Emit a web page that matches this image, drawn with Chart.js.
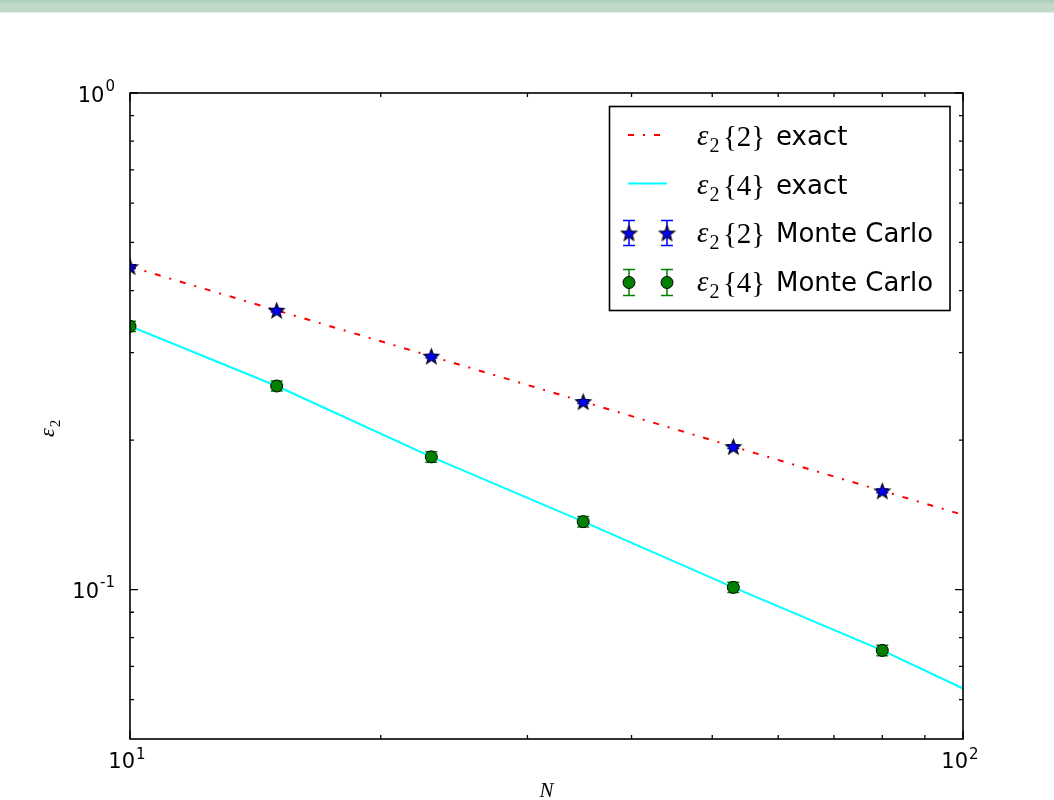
<!DOCTYPE html>
<html>
<head>
<meta charset="utf-8">
<title>eps2 vs N</title>
<script src="https://cdn.jsdelivr.net/npm/chart.js@4/dist/chart.umd.min.js"></script>
<style>
    html, body { margin: 0; padding: 0; background: #fff; }
    #wrap { position: relative; width: 1054px; height: 800px; }
    #band {
        position: absolute; left: 0; top: 0; width: 1054px; height: 12px;
        background: linear-gradient(#a9ccb3, #c0d9c9 35%, #c1d9ca);
        border-bottom: 1px solid #e2eee6; z-index: 2;
    }
    canvas { position: absolute; left: 0; top: 0; }
</style>
</head>
<body>
<div id="wrap">
    <div id="band"></div>
    <canvas id="epsChart" width="1054" height="800"></canvas>
</div>
<script>
// multiplicities
const nMC = [10, 15, 23, 35, 53, 80];
const nExact = [10, 15, 23, 35, 53, 80, 100];

// eps2{2}
const eps2Exact = [0.447, 0.365, 0.295, 0.239, 0.194, 0.158, 0.1414];
const eps2MC = [0.447, 0.365, 0.295, 0.239, 0.194, 0.158];
const eps2Err = [0.004, 0.003, 0.0025, 0.002, 0.0016, 0.0013];

// eps2{4}
const eps4Exact = [0.339, 0.257, 0.185, 0.137, 0.101, 0.0754, 0.0632];
const eps4MC = [0.339, 0.257, 0.185, 0.137, 0.101, 0.0754];
const eps4Err = [0.008, 0.006, 0.0045, 0.0033, 0.0024, 0.0018];

// axis ticks
const xMajor = [10, 100];
const xMajorExp = ['1', '2'];
const xMinor = [20, 30, 40, 50, 60, 70, 80, 90];
const yMajor = [0.1, 1];
const yMajorExp = ['-1', '0'];
const yMinor = [0.06, 0.07, 0.08, 0.09, 0.2, 0.3, 0.4, 0.5, 0.6, 0.7, 0.8, 0.9];

const sansFont = '"DejaVu Sans", sans-serif';
const serifFont = '"Liberation Serif", "DejaVu Serif", serif';
const red = '#ff0000';
const cyan = '#00ffff';
const blue = '#0000ff';
const green = '#008000';
const dashDot = [6, 9, 2, 9];

function makeStar(r) {
    const c = document.createElement('canvas');
    const size = Math.ceil(r * 2 + 3);
    c.width = size;
    c.height = size;
    const g = c.getContext('2d');
    const cx = size / 2, cy = size / 2 + 0.7;
    g.beginPath();
    for (let i = 0; i < 10; i++) {
        const rad = i % 2 === 0 ? r : r * 0.42;
        const a = -Math.PI / 2 + i * Math.PI / 5;
        const px = cx + rad * Math.cos(a), py = cy + rad * Math.sin(a);
        if (i === 0) g.moveTo(px, py); else g.lineTo(px, py);
    }
    g.closePath();
    g.fillStyle = blue;
    g.fill();
    g.lineWidth = 1.1;
    g.strokeStyle = '#000';
    g.stroke();
    return c;
}
const starImg = makeStar(8);

function toPoints(xs, ys) {
    return xs.map((x, i) => ({x: x, y: ys[i]}));
}

// error bars, drawn under the markers of a dataset
function drawErrorBar(ctx, x, yLo, yHi, color) {
    ctx.strokeStyle = color;
    ctx.lineWidth = 1.5;
    ctx.beginPath();
    ctx.moveTo(x, yLo);
    ctx.lineTo(x, yHi);
    ctx.moveTo(x - 6, yLo);
    ctx.lineTo(x + 6, yLo);
    ctx.moveTo(x - 6, yHi);
    ctx.lineTo(x + 6, yHi);
    ctx.stroke();
}

const errorBarPlugin = {
    id: 'errorBars',
    beforeDatasetDraw(chart, args) {
        const ds = chart.data.datasets[args.index];
        if (!ds.errors) return;
        const {ctx, chartArea, scales} = chart;
        ctx.save();
        ctx.beginPath();
        ctx.rect(chartArea.left, chartArea.top, chartArea.right - chartArea.left, chartArea.bottom - chartArea.top);
        ctx.clip();
        ds.data.forEach((p, i) => {
            const x = scales.x.getPixelForValue(p.x);
            const lo = scales.y.getPixelForValue(p.y - ds.errors[i]);
            const hi = scales.y.getPixelForValue(p.y + ds.errors[i]);
            drawErrorBar(ctx, x, lo, hi, ds.errorColor);
        });
        ctx.restore();
    }
};

function drawPower(ctx, exp, x, baseline, align, supRaise) {
    ctx.font = '21px ' + sansFont;
    const wBase = ctx.measureText('10').width;
    ctx.font = '15px ' + sansFont;
    const wExp = ctx.measureText(exp).width;
    const total = wBase + wExp + 1;
    let left = x;
    if (align === 'right') left = x - total;
    if (align === 'center') left = x - total / 2;
    ctx.textAlign = 'left';
    ctx.textBaseline = 'alphabetic';
    ctx.fillStyle = '#000';
    ctx.font = '21px ' + sansFont;
    ctx.fillText('10', left, baseline);
    ctx.font = '15px ' + sansFont;
    ctx.fillText(exp, left + wBase + 1, baseline - supRaise);
}

// eps_2 written with a subscript and optional {k}
function drawEps(ctx, x, baseline, size, k) {
    ctx.textAlign = 'left';
    ctx.textBaseline = 'alphabetic';
    ctx.fillStyle = '#000';
    ctx.font = 'italic ' + size + 'px ' + serifFont;
    ctx.fillText('\u03b5', x, baseline);
    let cx = x + ctx.measureText('\u03b5').width + 1;
    const sub = Math.round(size * 0.7);
    ctx.font = sub + 'px ' + serifFont;
    ctx.fillText('2', cx, baseline + size * 0.25);
    cx += ctx.measureText('2').width;
    if (k) {
        cx += size * 0.12;
        ctx.font = size + 'px ' + serifFont;
        ctx.fillText('{' + k + '}', cx, baseline + size * 0.05);
        cx += ctx.measureText('{' + k + '}').width;
    }
    return cx;
}

const framePlugin = {
    id: 'frame',
    afterDraw(chart) {
        const {ctx, chartArea: a, scales} = chart;
        ctx.save();
        ctx.strokeStyle = '#000';
        ctx.lineWidth = 1.6;
        ctx.strokeRect(a.left, a.top, a.right - a.left, a.bottom - a.top);

        ctx.lineWidth = 1.3;
        ctx.beginPath();
        const xTick = (v, len) => {
            const px = scales.x.getPixelForValue(v);
            ctx.moveTo(px, a.bottom); ctx.lineTo(px, a.bottom - len);
            ctx.moveTo(px, a.top); ctx.lineTo(px, a.top + len);
        };
        const yTick = (v, len) => {
            const py = scales.y.getPixelForValue(v);
            ctx.moveTo(a.left, py); ctx.lineTo(a.left + len, py);
            ctx.moveTo(a.right, py); ctx.lineTo(a.right - len, py);
        };
        xMajor.forEach(v => xTick(v, 8));
        xMinor.forEach(v => xTick(v, 4));
        yMajor.forEach(v => yTick(v, 8));
        yMinor.forEach(v => yTick(v, 4));
        ctx.stroke();

        xMajor.forEach((v, i) => {
            drawPower(ctx, xMajorExp[i], scales.x.getPixelForValue(v) - 3, a.bottom + 29, 'center', 9);
        });
        yMajor.forEach((v, i) => {
            drawPower(ctx, yMajorExp[i], a.left - 15, scales.y.getPixelForValue(v) + 8.5, 'right', 11);
        });

        // axis titles
        ctx.font = 'italic 21px ' + serifFont;
        ctx.textAlign = 'center';
        ctx.fillStyle = '#000';
        ctx.fillText('N', (a.left + a.right) / 2, 797);
        ctx.save();
        ctx.translate(54, 437);
        ctx.rotate(-Math.PI / 2);
        drawEps(ctx, 0, 0, 22, null);
        ctx.restore();

        // legend
        const lx = 609.5, ly = 106.5, lw = 340.5, lh = 204;
        ctx.fillStyle = '#fff';
        ctx.fillRect(lx, ly, lw, lh);
        ctx.strokeStyle = '#000';
        ctx.lineWidth = 1.6;
        ctx.strokeRect(lx, ly, lw, lh);

        const rows = [145, 193.5, 242, 290.5];
        const entries = [
            {k: '2', text: 'exact'},
            {k: '4', text: 'exact'},
            {k: '2', text: 'Monte Carlo'},
            {k: '4', text: 'Monte Carlo'}
        ];

        ctx.lineWidth = 2;
        ctx.strokeStyle = red;
        ctx.setLineDash(dashDot);
        ctx.beginPath();
        ctx.moveTo(628, rows[0] - 10);
        ctx.lineTo(666, rows[0] - 10);
        ctx.stroke();
        ctx.setLineDash([]);
        ctx.strokeStyle = cyan;
        ctx.beginPath();
        ctx.moveTo(628, rows[1] - 10);
        ctx.lineTo(667, rows[1] - 10);
        ctx.stroke();

        [629, 667].forEach(mx => {
            const sy = rows[2] - 9;
            drawErrorBar(ctx, mx, sy - 12.5, sy + 12.5, blue);
            ctx.drawImage(starImg, mx - starImg.width / 2, sy - starImg.height / 2);
            const cy = rows[3] - 8;
            drawErrorBar(ctx, mx, cy - 13, cy + 13, green);
            ctx.beginPath();
            ctx.arc(mx, cy, 6, 0, Math.PI * 2);
            ctx.fillStyle = green;
            ctx.fill();
            ctx.lineWidth = 1;
            ctx.strokeStyle = '#000';
            ctx.stroke();
        });

        entries.forEach((e, i) => {
            drawEps(ctx, 697, rows[i], 29, e.k);
            ctx.font = '26px ' + sansFont;
            ctx.fillStyle = '#000';
            ctx.textAlign = 'left';
            ctx.fillText(e.text, 776, rows[i]);
        });
        ctx.restore();
    }
};

const epsCtx = document.getElementById('epsChart').getContext('2d');
const epsChart = new Chart(epsCtx, {
    type: 'scatter',
    data: {
        datasets: [{
                label: 'eps2{2} Monte Carlo',
                data: toPoints(nMC, eps2MC),
                errors: eps2Err,
                errorColor: blue,
                pointStyle: starImg,
                pointRadius: 8,
                clip: 0,
                order: 1
            }, {
                label: 'eps2{4} Monte Carlo',
                data: toPoints(nMC, eps4MC),
                errors: eps4Err,
                errorColor: green,
                pointStyle: 'circle',
                pointRadius: 6,
                backgroundColor: green,
                borderColor: '#000',
                borderWidth: 1,
                clip: 0,
                order: 2
            }, {
                label: 'eps2{2} exact',
                type: 'line',
                data: toPoints(nExact, eps2Exact),
                borderColor: red,
                borderWidth: 2,
                borderDash: dashDot,
                pointRadius: 0,
                fill: false,
                clip: 0,
                order: 3
            }, {
                label: 'eps2{4} exact',
                type: 'line',
                data: toPoints(nExact, eps4Exact),
                borderColor: cyan,
                borderWidth: 2,
                pointRadius: 0,
                fill: false,
                clip: 0,
                order: 4
            }]
    },
    options: {
        responsive: false,
        animation: false,
        layout: {
            padding: {left: 130, right: 91, top: 93, bottom: 61}
        },
        scales: {
            x: {type: 'logarithmic', min: 10, max: 100, display: false},
            y: {type: 'logarithmic', min: 0.05, max: 1, display: false}
        },
        plugins: {
            legend: {display: false},
            tooltip: {enabled: false}
        }
    },
    plugins: [errorBarPlugin, framePlugin]
});
</script>
</body>
</html>
